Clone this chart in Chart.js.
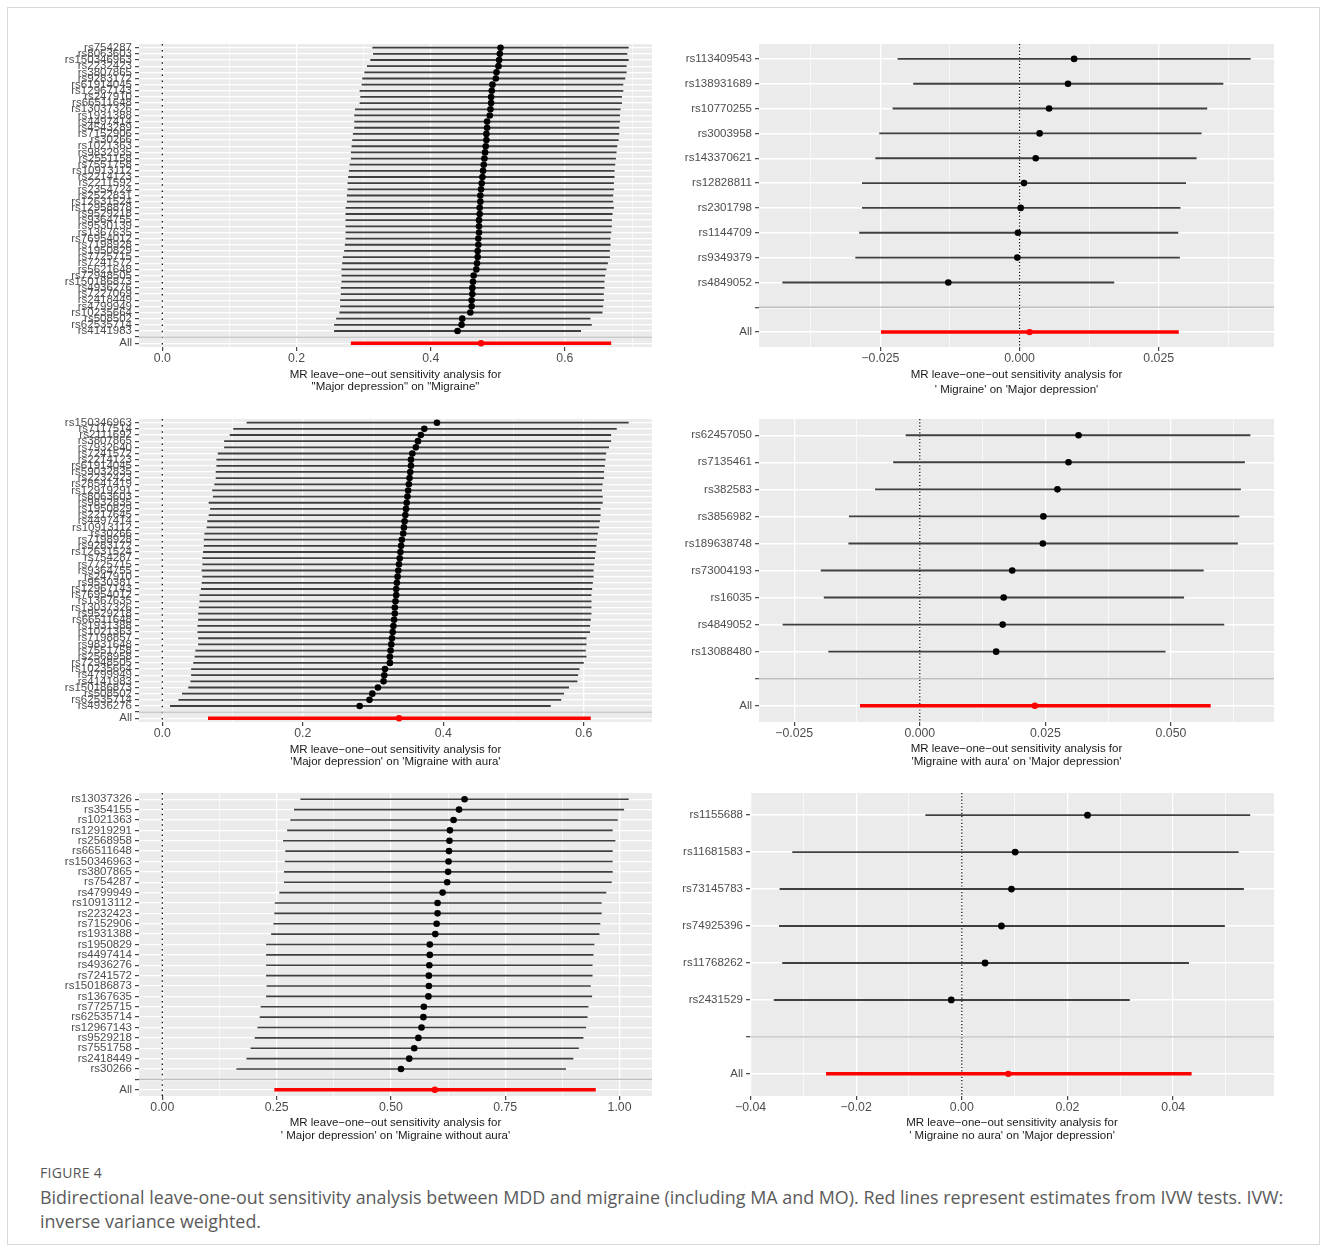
<!DOCTYPE html>
<html>
<head>
<meta charset="utf-8">
<title>Leave-one-out sensitivity analysis</title>
<script src="https://cdn.jsdelivr.net/npm/chart.js@4.4.1/dist/chart.umd.min.js"></script>
<style>
  html, body { margin: 0; padding: 0; background: #ffffff; }
  body { width: 1328px; height: 1252px; position: relative; overflow: hidden; }
  .frame { position: absolute; left: 7px; top: 7px; width: 1313px; height: 1238px;
           border: 1px solid #d9d9d9; box-sizing: border-box; }
  canvas.panel { position: absolute; }
  .fig-head { position: absolute; left: 40px; top: 1163px; font: 14px/20px 'Open Sans', sans-serif;
              color: #555555; letter-spacing: 0.3px; }
  .fig-text { position: absolute; left: 40px; top: 1185px; font: 17.9px/24px 'Open Sans', sans-serif;
              color: #5a5a5a; white-space: nowrap; }
</style>
</head>
<body>
<div class="frame"></div>
<canvas id="pTL" class="panel"></canvas>
<canvas id="pTR" class="panel"></canvas>
<canvas id="pML" class="panel"></canvas>
<canvas id="pMR" class="panel"></canvas>
<canvas id="pBL" class="panel"></canvas>
<canvas id="pBR" class="panel"></canvas>
<div class="fig-head">FIGURE 4</div>
<div class="fig-text">Bidirectional leave-one-out sensitivity analysis between MDD and migraine (including MA and MO). Red lines represent estimates from IVW tests. IVW:<br>inverse variance weighted.</div>

<script>
// ---------- Major depression -> Migraine ----------
const mddMigSnps = ['rs754287','rs8063603','rs150346963','rs2232423','rs3807865','rs9283172','rs61914045','rs12967143','rs247910','rs66511648',
  'rs13037326','rs1931388','rs4497414','rs4543289','rs7152906','rs30266','rs1021363','rs9832935','rs2551158','rs7551758',
  'rs10913112','rs2214123','rs2211592','rs2354724','rs2522831','rs12631524','rs12958878','rs9529218','rs9364755','rs9530139',
  'rs1367635','rs76954012','rs7198928','rs1950829','rs7725715','rs7241572','rs5621648','rs72948505','rs150186873','rs4936276',
  'rs7227069','rs2418449','rs4799949','rs10235664','rs508502','rs62535714','rs4141983'];
const mddMigBeta = [0.504,0.503,0.502,0.501,0.498,0.497,0.492,0.491,0.490,0.490,
  0.489,0.488,0.484,0.484,0.483,0.483,0.482,0.481,0.480,0.479,
  0.478,0.477,0.476,0.475,0.474,0.474,0.473,0.473,0.472,0.472,
  0.472,0.471,0.471,0.470,0.470,0.469,0.468,0.464,0.463,0.462,
  0.462,0.461,0.461,0.459,0.447,0.446,0.440];
const mddMigLow = [0.313,0.314,0.310,0.305,0.301,0.298,0.297,0.294,0.295,0.294,
  0.287,0.286,0.286,0.286,0.284,0.283,0.282,0.281,0.281,0.279,
  0.278,0.277,0.276,0.276,0.275,0.275,0.273,0.273,0.273,0.273,
  0.273,0.273,0.272,0.271,0.269,0.268,0.267,0.267,0.267,0.266,
  0.266,0.265,0.265,0.264,0.259,0.256,0.256];
const mddMigHigh = [0.695,0.693,0.695,0.692,0.692,0.690,0.687,0.687,0.685,0.685,
  0.683,0.682,0.682,0.681,0.681,0.680,0.678,0.677,0.676,0.675,
  0.674,0.674,0.673,0.673,0.672,0.672,0.673,0.671,0.670,0.670,
  0.669,0.668,0.668,0.667,0.667,0.664,0.662,0.660,0.659,0.659,
  0.658,0.658,0.657,0.656,0.638,0.640,0.624];
const mddMigAll = [0.281, 0.475, 0.669];            // low, estimate, high (IVW)
const mddMigTicks = [0, 0.2, 0.4, 0.6];
const mddMigTickLabels = ['0.0', '0.2', '0.4', '0.6'];
const mddMigMinor = [0.1, 0.3, 0.5, 0.7];
const mddMigTitle = ['MR leave\u2212one\u2212out sensitivity analysis for', '"Major depression" on "Migraine"'];

// ---------- Migraine -> Major depression ----------
const migMddSnps = ['rs113409543','rs138931689','rs10770255','rs3003958','rs143370621','rs12828811','rs2301798','rs1144709','rs9349379','rs4849052'];
const migMddBeta = [0.0098,0.0087,0.0053,0.0036,0.0029,0.0008,0.0002,-0.0003,-0.0004,-0.0128];
const migMddLow = [-0.0219,-0.0191,-0.0228,-0.0252,-0.0259,-0.0283,-0.0283,-0.0288,-0.0295,-0.0426];
const migMddHigh = [0.0415,0.0366,0.0337,0.0327,0.0318,0.0299,0.0289,0.0285,0.0288,0.0170];
const migMddAll = [-0.0249, 0.0018, 0.0286];
const migMddTicks = [-0.025, 0, 0.025];
const migMddTickLabels = ['\u22120.025', '0.000', '0.025'];
const migMddMinor = [-0.0375, -0.0125, 0.0125, 0.0375];
const migMddTitle = ['MR leave\u2212one\u2212out sensitivity analysis for', "' Migraine' on 'Major depression'"];

// ---------- Major depression -> Migraine with aura ----------
const mddMaSnps = ['rs150346963','rs7117514','rs2111692','rs3807865','rs7932640','rs7241572','rs2214123','rs61914045','rs59032835','rs2232423',
  'rs28541419','rs12919291','rs8063603','rs9832835','rs1950829','rs2217645','rs4497414','rs10913112','rs30266','rs7198928',
  'rs9283172','rs12631524','rs754287','rs7725715','rs9364755','rs247910','rs9530381','rs12967143','rs76954012','rs1367635',
  'rs13037326','rs9529218','rs66511648','rs1931388','rs1021363','rs7198857','rs9831648','rs7551758','rs2568958','rs72948505',
  'rs10235664','rs4799949','rs4141983','rs150186873','rs508502','rs62535714','rs4936276'];
const mddMaBeta = [0.391,0.373,0.368,0.364,0.361,0.356,0.354,0.354,0.353,0.352,
  0.351,0.350,0.349,0.348,0.347,0.346,0.345,0.344,0.343,0.341,
  0.340,0.339,0.338,0.337,0.336,0.335,0.334,0.333,0.333,0.332,
  0.331,0.331,0.330,0.329,0.328,0.327,0.326,0.325,0.324,0.324,
  0.317,0.316,0.315,0.307,0.299,0.295,0.281];
const mddMaLow = [0.120,0.101,0.096,0.088,0.088,0.079,0.077,0.077,0.076,0.076,
  0.074,0.071,0.072,0.066,0.068,0.066,0.064,0.063,0.060,0.059,
  0.059,0.058,0.057,0.057,0.056,0.057,0.056,0.055,0.053,0.053,
  0.052,0.051,0.051,0.050,0.050,0.051,0.051,0.047,0.046,0.044,
  0.041,0.041,0.040,0.037,0.028,0.023,0.011];
const mddMaHigh = [0.664,0.647,0.639,0.639,0.636,0.632,0.631,0.630,0.629,0.629,
  0.627,0.626,0.627,0.627,0.624,0.624,0.623,0.622,0.620,0.619,
  0.618,0.617,0.616,0.615,0.614,0.614,0.613,0.612,0.611,0.611,
  0.611,0.611,0.610,0.609,0.609,0.604,0.604,0.603,0.604,0.600,
  0.594,0.592,0.591,0.579,0.572,0.568,0.553];
const mddMaAll = [0.065, 0.337, 0.610];
const mddMaTicks = [0, 0.2, 0.4, 0.6];
const mddMaTickLabels = ['0.0', '0.2', '0.4', '0.6'];
const mddMaMinor = [0.1, 0.3, 0.5];
const mddMaTitle = ['MR leave\u2212one\u2212out sensitivity analysis for', "'Major depression' on 'Migraine with aura'"];

// ---------- Migraine with aura -> Major depression ----------
const maMddSnps = ['rs62457050','rs7135461','rs382583','rs3856982','rs189638748','rs73004193','rs16035','rs4849052','rs13088480'];
const maMddBeta = [0.0316,0.0296,0.0274,0.0246,0.0245,0.0184,0.0167,0.0165,0.0152];
const maMddLow = [-0.0028,-0.0053,-0.0089,-0.0141,-0.0142,-0.0197,-0.0191,-0.0273,-0.0182];
const maMddHigh = [0.0658,0.0647,0.0639,0.0636,0.0633,0.0565,0.0526,0.0606,0.0489];
const maMddAll = [-0.0119, 0.0229, 0.0579];
const maMddTicks = [-0.025, 0, 0.025, 0.05];
const maMddTickLabels = ['\u22120.025', '0.000', '0.025', '0.050'];
const maMddMinor = [-0.0125, 0.0125, 0.0375, 0.0625];
const maMddTitle = ['MR leave\u2212one\u2212out sensitivity analysis for', "'Migraine with aura' on 'Major depression'"];

// ---------- Major depression -> Migraine without aura ----------
const mddMoSnps = ['rs13037326','rs354155','rs1021363','rs12919291','rs2568958','rs66511648','rs150346963','rs3807865','rs754287','rs4799949',
  'rs10913112','rs2232423','rs7152906','rs1931388','rs1950829','rs4497414','rs4936276','rs7241572','rs150186873','rs1367635',
  'rs7725715','rs62535714','rs12967143','rs9529218','rs7551758','rs2418449','rs30266'];
const mddMoBeta = [0.661,0.649,0.637,0.629,0.628,0.627,0.626,0.625,0.623,0.613,
  0.602,0.602,0.600,0.597,0.585,0.585,0.584,0.583,0.583,0.582,
  0.572,0.571,0.567,0.560,0.551,0.540,0.522];
const mddMoLow = [0.302,0.288,0.280,0.273,0.264,0.269,0.268,0.266,0.266,0.256,
  0.246,0.245,0.243,0.238,0.227,0.227,0.227,0.227,0.228,0.227,
  0.215,0.213,0.208,0.202,0.193,0.184,0.162];
const mddMoHigh = [1.020,1.010,0.996,0.985,0.991,0.985,0.985,0.985,0.983,0.971,
  0.961,0.961,0.958,0.956,0.945,0.943,0.941,0.941,0.937,0.940,
  0.932,0.930,0.927,0.921,0.911,0.899,0.883];
const mddMoAll = [0.245, 0.596, 0.948];
const mddMoTicks = [0, 0.25, 0.5, 0.75, 1.0];
const mddMoTickLabels = ['0.00', '0.25', '0.50', '0.75', '1.00'];
const mddMoMinor = [0.125, 0.375, 0.625, 0.875];
const mddMoTitle = ['MR leave\u2212one\u2212out sensitivity analysis for', "' Major depression' on 'Migraine without aura'"];

// ---------- Migraine without aura -> Major depression ----------
const moMddSnps = ['rs1155688','rs11681583','rs73145783','rs74925396','rs11768262','rs2431529'];
const moMddBeta = [0.0238,0.0101,0.0094,0.0075,0.0044,-0.0020];
const moMddLow = [-0.0069,-0.0321,-0.0345,-0.0346,-0.0340,-0.0356];
const moMddHigh = [0.0546,0.0524,0.0534,0.0498,0.0430,0.0318];
const moMddAll = [-0.0257, 0.0088, 0.0435];
const moMddTicks = [-0.04, -0.02, 0, 0.02, 0.04];
const moMddTickLabels = ['\u22120.04', '\u22120.02', '0.00', '0.02', '0.04'];
const moMddMinor = [-0.03, -0.01, 0.01, 0.03, 0.05];
const moMddTitle = ['MR leave\u2212one\u2212out sensitivity analysis for', "' Migraine no aura' on 'Major depression'"];

// ---------- page geometry (plot rectangles, axis limits, styling) ----------
const PAD_TOP = 12, PAD_RIGHT = 16, X_AXIS_H = 54;
const PANEL_BG = '#ebebeb';
const BAR_COLOR = '#3f3f3f';
const IVW_COLOR = '#ff0000';

Chart.defaults.font.family = "'Liberation Sans', Arial, Helvetica, sans-serif";
Chart.defaults.animation = false;

const panelFill = {
  id: 'panelFill',
  beforeDraw(chart) {
    const a = chart.chartArea, c = chart.ctx;
    c.save();
    c.fillStyle = PANEL_BG;
    c.fillRect(a.left, a.top, a.right - a.left, a.bottom - a.top);
    c.restore();
  }
};

function drawPanel(id, box, d) {
  const labels = d.snps.concat(['', 'All']);
  const rows = labels.length;
  const blankRow = d.snps.length;
  const allRow = d.snps.length + 1;
  const canvas = document.getElementById(id);
  const W = (box.r - box.l) + box.yw + PAD_RIGHT;
  const H = PAD_TOP + (box.b - box.t) + X_AXIS_H;
  canvas.width = W; canvas.height = H;
  canvas.style.width = W + 'px'; canvas.style.height = H + 'px';
  canvas.style.left = (box.l - box.yw) + 'px';
  canvas.style.top = (box.t - PAD_TOP) + 'px';

  const majorIndex = v => d.ticks.findIndex(t => Math.abs(t - v) < 1e-9);
  const xTicks = d.ticks.concat(d.minor).sort((a, b) => a - b);
  const titleFont = 11.5;
  const titlePad = (X_AXIS_H - box.titleOffset) - 1.5 * box.titleLH;

  new Chart(canvas, {
    type: 'bar',
    plugins: [panelFill],
    data: {
      datasets: [
        { type: 'scatter', data: [{ x: d.all[1], y: allRow }],
          backgroundColor: IVW_COLOR, pointBackgroundColor: IVW_COLOR, pointBorderWidth: 0,
          pointRadius: 3.2, order: 0 },
        { type: 'scatter', data: d.beta.map((b, i) => ({ x: b, y: i })),
          backgroundColor: '#000', pointBackgroundColor: '#000', pointBorderWidth: 0,
          pointRadius: box.dot, order: 1 },
        { type: 'bar', data: [{ y: allRow, x: [d.all[0], d.all[2]] }],
          backgroundColor: IVW_COLOR, borderWidth: 0, inflateAmount: 0,
          barThickness: 3.5, maxBarThickness: 3.5, grouped: false, order: 2 },
        { type: 'bar', data: d.low.map((lo, i) => ({ y: i, x: [lo, d.high[i]] })),
          backgroundColor: BAR_COLOR, borderWidth: 0, inflateAmount: 0,
          barThickness: box.bar, maxBarThickness: box.bar, grouped: false, order: 3 },
        { type: 'line', data: [{ x: box.range[0], y: blankRow }, { x: box.range[1], y: blankRow }],
          borderColor: '#bebebe', borderWidth: 1.4, pointRadius: 0, order: 4 },
        { type: 'line', data: [{ x: 0, y: -0.6 }, { x: 0, y: rows - 0.4 }],
          borderColor: '#000', borderWidth: 1.2, borderDash: box.dash, pointRadius: 0, order: 5 }
      ]
    },
    options: {
      indexAxis: 'y',
      responsive: false,
      maintainAspectRatio: false,
      devicePixelRatio: 1,
      events: [],
      layout: { padding: { top: PAD_TOP, right: PAD_RIGHT, left: 0, bottom: 0 } },
      plugins: { legend: { display: false }, tooltip: { enabled: false }, title: { display: false } },
      scales: {
        x: {
          type: 'linear', position: 'bottom', bounds: 'data', offset: false,
          min: box.range[0], max: box.range[1],
          afterBuildTicks: s => { s.ticks = xTicks.map(v => ({ value: v })); },
          afterFit: s => { s.height = X_AXIS_H; },
          border: { display: false },
          grid: {
            offset: false, drawOnChartArea: true, drawTicks: true,
            color: '#ffffff',
            lineWidth: c => (majorIndex(c.tick.value) >= 0 ? 1.3 : 0.65),
            tickColor: c => (majorIndex(c.tick.value) >= 0 ? '#333333' : 'rgba(0,0,0,0)'),
            tickLength: 4, tickWidth: 1.1
          },
          ticks: {
            autoSkip: false, maxRotation: 0, minRotation: 0, padding: 0,
            color: '#4d4d4d', font: { size: 12.3 },
            callback: v => { const k = majorIndex(v); return k >= 0 ? d.tickLabels[k] : ''; }
          },
          title: {
            display: true, text: d.title, color: '#1a1a1a',
            font: { size: titleFont, lineHeight: box.titleLH / titleFont },
            padding: { top: 0, bottom: titlePad }
          }
        },
        y: {
          type: 'linear', position: 'left', reverse: true, bounds: 'data', offset: false,
          min: -0.6, max: rows - 0.4,
          afterBuildTicks: s => { s.ticks = labels.map((_, i) => ({ value: i })); },
          afterFit: s => { s.width = box.yw; },
          border: { display: false },
          grid: {
            offset: false, color: '#ffffff', lineWidth: box.rowLine,
            tickColor: '#333333', tickLength: 4, tickWidth: 1.1
          },
          ticks: {
            autoSkip: false, padding: 3, color: '#4d4d4d', font: { size: 11.5 },
            callback: v => labels[Math.round(v)]
          }
        }
      }
    }
  });
}

drawPanel('pTL', { l: 139, r: 652, t: 44, b: 347, yw: 119, range: [-0.0348, 0.7298],
  dot: 3.3, bar: 1.8, dash: [1.5, 4.6], rowLine: 1.3, titleOffset: 28, titleLH: 12.3 },
  { snps: mddMigSnps, beta: mddMigBeta, low: mddMigLow, high: mddMigHigh, all: mddMigAll,
    ticks: mddMigTicks, tickLabels: mddMigTickLabels, minor: mddMigMinor, title: mddMigTitle });

drawPanel('pTR', { l: 759, r: 1274, t: 44, b: 347, yw: 89, range: [-0.0468, 0.0457],
  dot: 3.3, bar: 1.9, dash: [1.2, 2.1], rowLine: 1.4, titleOffset: 28, titleLH: 15 },
  { snps: migMddSnps, beta: migMddBeta, low: migMddLow, high: migMddHigh, all: migMddAll,
    ticks: migMddTicks, tickLabels: migMddTickLabels, minor: migMddMinor, title: migMddTitle });

drawPanel('pML', { l: 139, r: 652, t: 419, b: 722, yw: 119, range: [-0.0332, 0.6972],
  dot: 3.3, bar: 1.8, dash: [1.5, 4.6], rowLine: 1.3, titleOffset: 28, titleLH: 12.3 },
  { snps: mddMaSnps, beta: mddMaBeta, low: mddMaLow, high: mddMaHigh, all: mddMaAll,
    ticks: mddMaTicks, tickLabels: mddMaTickLabels, minor: mddMaMinor, title: mddMaTitle });

drawPanel('pMR', { l: 759, r: 1274, t: 419, b: 722, yw: 89, range: [-0.0320, 0.0705],
  dot: 3.3, bar: 1.9, dash: [1.2, 2.1], rowLine: 1.4, titleOffset: 27, titleLH: 13 },
  { snps: maMddSnps, beta: maMddBeta, low: maMddLow, high: maMddHigh, all: maMddAll,
    ticks: maMddTicks, tickLabels: maMddTickLabels, minor: maMddMinor, title: maMddTitle });

drawPanel('pBL', { l: 139, r: 652, t: 793, b: 1096, yw: 119, range: [-0.0510, 1.0710],
  dot: 3.3, bar: 1.7, dash: [1.5, 3.7], rowLine: 1.3, titleOffset: 27, titleLH: 12.7 },
  { snps: mddMoSnps, beta: mddMoBeta, low: mddMoLow, high: mddMoHigh, all: mddMoAll,
    ticks: mddMoTicks, tickLabels: mddMoTickLabels, minor: mddMoMinor, title: mddMoTitle });

drawPanel('pBR', { l: 750, r: 1274, t: 793, b: 1096, yw: 80, range: [-0.0401, 0.0591],
  dot: 3.4, bar: 1.9, dash: [1.2, 2.1], rowLine: 1.4, titleOffset: 27, titleLH: 12.7 },
  { snps: moMddSnps, beta: moMddBeta, low: moMddLow, high: moMddHigh, all: moMddAll,
    ticks: moMddTicks, tickLabels: moMddTickLabels, minor: moMddMinor, title: moMddTitle });
</script>
</body>
</html>
